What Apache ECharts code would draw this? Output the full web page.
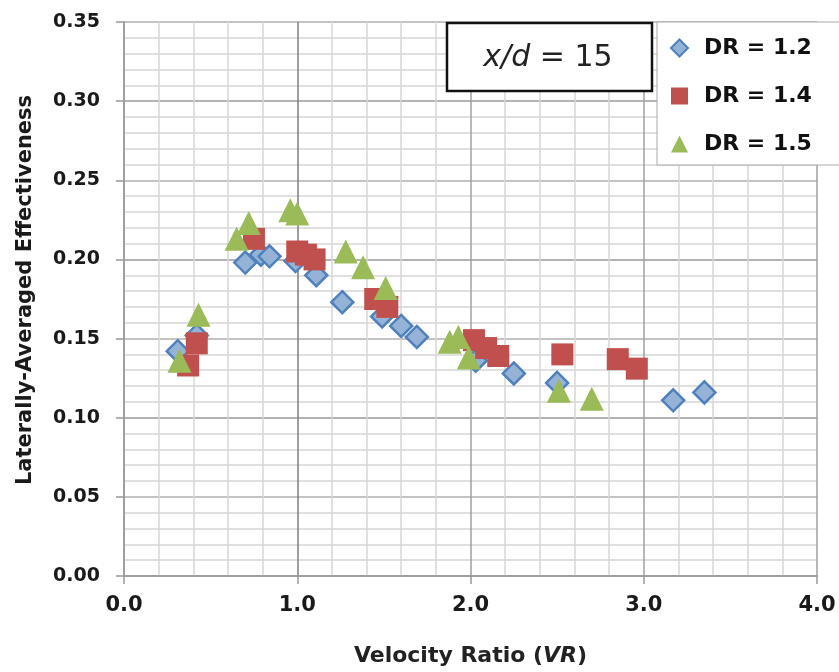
<!DOCTYPE html>
<html>
<head>
<meta charset="utf-8">
<script src="https://cdn.jsdelivr.net/npm/echarts@6/dist/echarts.min.js"></script>
<style>
html,body{margin:0;padding:0;background:#fff;}
#chart{width:839px;height:672px;}
</style>
</head>
<body>
<div id="chart"></div>
<script>
// Velocity ratio (VR) and laterally-averaged effectiveness, x/d = 15
var seriesNames = ['DR = 1.2', 'DR = 1.4', 'DR = 1.5'];

var vr12  = [0.31, 0.42, 0.70, 0.79, 0.84, 0.99, 1.11, 1.26, 1.49, 1.60, 1.69, 2.03, 2.25, 2.50, 3.17, 3.35];
var eff12 = [0.142, 0.152, 0.198, 0.203, 0.202, 0.199, 0.190, 0.173, 0.164, 0.158, 0.151, 0.136, 0.128, 0.122, 0.111, 0.116];

var vr14  = [0.37, 0.42, 0.75, 1.00, 1.05, 1.10, 1.45, 1.52, 2.02, 2.09, 2.16, 2.53, 2.85, 2.96];
var eff14 = [0.133, 0.147, 0.213, 0.205, 0.203, 0.200, 0.175, 0.170, 0.149, 0.144, 0.139, 0.140, 0.137, 0.131];

var vr15  = [0.32, 0.43, 0.65, 0.72, 0.96, 1.00, 1.28, 1.38, 1.51, 1.88, 1.93, 1.99, 2.51, 2.70];
var eff15 = [0.136, 0.165, 0.213, 0.223, 0.231, 0.229, 0.205, 0.195, 0.182, 0.148, 0.151, 0.138, 0.117, 0.112];

var xTickLabels = ['0.0', '1.0', '2.0', '3.0', '4.0'];
var yTickLabels = ['0.00', '0.05', '0.10', '0.15', '0.20', '0.25', '0.30', '0.35'];

function pairs(xs, ys) { return xs.map(function (x, i) { return [x, ys[i]]; }); }

var FONT = 'DejaVu Sans';
var chart = echarts.init(document.getElementById('chart'), null, {renderer: 'canvas'});

var option = {
  backgroundColor: '#ffffff',
  animation: false,
  textStyle: {fontFamily: FONT},
  grid: {left: 124, right: 22, top: 22, bottom: 95},
  xAxis: {
    type: 'value', min: 0, max: 4, interval: 1,
    name: '{b|Velocity Ratio (}{bi|VR}{b|)}',
    nameLocation: 'middle', nameGap: 80,
    nameTextStyle: {
      verticalAlign: 'middle',
      rich: {
        b: {fontFamily: FONT, fontWeight: 'bold', fontSize: 22, color: '#222'},
        bi: {fontFamily: FONT, fontWeight: 'bold', fontStyle: 'italic', fontSize: 22, color: '#222'}
      }
    },
    axisLine: {show: true, lineStyle: {color: '#999', width: 1.5}},
    axisTick: {show: true, length: 8, lineStyle: {color: '#999', width: 1.5}},
    axisLabel: {
      margin: 19, fontFamily: FONT, fontWeight: 'bold', fontSize: 21, color: '#1a1a1a',
      formatter: function (v) { return xTickLabels[Math.round(v)]; }
    },
    splitLine: {show: true, lineStyle: {color: ['#a0a0a0', '#7f7f7f', '#a0a0a0', '#a0a0a0', '#a0a0a0'], width: 1.5}},
    minorTick: {show: false, splitNumber: 5},
    minorSplitLine: {show: true, lineStyle: {color: '#d6d6d6', width: 1.5}}
  },
  yAxis: {
    type: 'value', min: 0, max: 0.35, interval: 0.05,
    name: 'Laterally-Averaged Effectiveness',
    nameLocation: 'middle', nameGap: 98, nameRotate: 90,
    nameTextStyle: {fontFamily: FONT, fontWeight: 'bold', fontSize: 21, color: '#1a1a1a', verticalAlign: 'middle', padding: [0, 0, 0, 18]},
    axisLine: {show: true, lineStyle: {color: '#999', width: 1.5}},
    axisTick: {show: true, length: 8, lineStyle: {color: '#999', width: 1.5}},
    axisLabel: {
      margin: 24, fontFamily: FONT, fontWeight: 'bold', fontSize: 19, color: '#1a1a1a',
      formatter: function (v) { return yTickLabels[Math.round(v / 0.05)]; }
    },
    splitLine: {show: true, lineStyle: {color: ['#9a9a9a', '#b0b0b0'], width: 1.5}},
    minorTick: {show: false, splitNumber: 5},
    minorSplitLine: {show: true, lineStyle: {color: '#d6d6d6', width: 1.5}}
  },
  legend: {
    orient: 'vertical', left: 670, top: 37, padding: 0, z: 20,
    itemWidth: 17, itemHeight: 17, itemGap: 26,
    data: seriesNames,
    formatter: function (n) { return '{t|' + n + '}'; },
    textStyle: {
      rich: {t: {fontFamily: FONT, fontWeight: 'bold', fontSize: 22, color: '#111', lineHeight: 24, padding: [0, 0, 0, 11]}}
    }
  },
  graphic: [
    {
      type: 'rect', z: 15, silent: true,
      shape: {x: 657, y: 22, width: 200, height: 143},
      style: {fill: '#ffffff', stroke: '#a8a8a8', lineWidth: 1}
    },
    {
      type: 'rect', z: 15, silent: true,
      shape: {x: 447, y: 23, width: 205, height: 68},
      style: {fill: '#ffffff', stroke: '#111', lineWidth: 2.5}
    },
    {
      type: 'text', z: 16, silent: true,
      x: 548, y: 58,
      style: {
        text: '{i|x/d} = 15',
        fontFamily: FONT, fontSize: 30, fill: '#222',
        align: 'center', verticalAlign: 'middle',
        rich: {i: {fontFamily: FONT, fontStyle: 'italic', fontSize: 30, fill: '#222'}}
      }
    }
  ],
  series: [
    {
      name: seriesNames[0], type: 'scatter', symbol: 'diamond', symbolSize: 22,
      itemStyle: {color: '#95b3d7', borderColor: '#4f81bd', borderWidth: 2.5, opacity: 1},
      data: pairs(vr12, eff12), z: 2
    },
    {
      name: seriesNames[1], type: 'scatter', symbol: 'rect', symbolSize: 22,
      itemStyle: {color: '#c0504d', borderWidth: 0, opacity: 1},
      data: pairs(vr14, eff14), z: 3
    },
    {
      name: seriesNames[2], type: 'scatter', symbol: 'triangle', symbolSize: 24,
      itemStyle: {color: '#9bbb59', borderWidth: 0, opacity: 1},
      data: pairs(vr15, eff15), z: 4
    }
  ]
};
chart.setOption(option);
</script>
</body>
</html>
